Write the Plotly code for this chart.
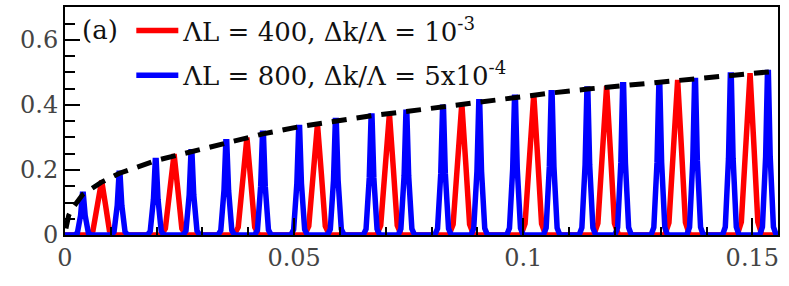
import plotly.graph_objects as go

# ---- data ----
red_peak_x = [0.0079, 0.0237, 0.0396, 0.0550, 0.0707, 0.0865, 0.1022, 0.1181, 0.1336, 0.1494]
red_peak_y = [0.167, 0.249, 0.300, 0.342, 0.374, 0.405, 0.433, 0.458, 0.477, 0.498]

blue_peak_x = [0.0039, 0.0119, 0.0198, 0.0276, 0.0352, 0.0432, 0.0511, 0.0591, 0.0669, 0.0745,
               0.0825, 0.0904, 0.0982, 0.1062, 0.1140, 0.1218, 0.1297, 0.1375, 0.1453, 0.1534]
blue_peak_y = [0.125, 0.190, 0.229, 0.256, 0.287, 0.313, 0.331, 0.352, 0.366, 0.378,
               0.393, 0.410, 0.424, 0.438, 0.449, 0.462, 0.467, 0.475, 0.492, 0.500]

# peak outline (offset from centre, fraction of peak height) as seen in the picture
red_profile_dx = [-0.0027, -0.0018, -0.00095, -0.0001, 0.0001, 0.00095, 0.0018, 0.0027]
red_profile_frac = [0.0, 0.08, 0.55, 1.0, 1.0, 0.55, 0.08, 0.0]
blue_profile_dx = [-0.0018, -0.0012, -0.0005, -0.0001, 0.0001, 0.0005, 0.0012, 0.0018]
blue_profile_frac = [0.0, 0.05, 0.48, 1.0, 1.0, 0.48, 0.05, 0.0]

env_x = [0.0002, 0.0008, 0.0015, 0.0025, 0.0039, 0.0079, 0.0119, 0.0198, 0.0276, 0.0352,
         0.0432, 0.0511, 0.0591, 0.0669, 0.0745, 0.0825, 0.0904, 0.0982, 0.1062, 0.1140,
         0.1218, 0.1297, 0.1375, 0.1453, 0.1545]
env_y = [0.020, 0.060, 0.080, 0.100, 0.125, 0.162, 0.190, 0.229, 0.256, 0.285,
         0.311, 0.333, 0.352, 0.367, 0.380, 0.395, 0.410, 0.424, 0.437, 0.449,
         0.460, 0.470, 0.480, 0.490, 0.503]

x_ticks = [0, 0.05, 0.1, 0.15]
x_tick_text = ["0", "0.05", "0.1", "0.15"]
y_ticks = [0, 0.2, 0.4, 0.6]
y_tick_text = ["0", "0.2", "0.4", "0.6"]

X_MAX = 0.1556
Y_MAX = 0.7015


def build(px, py, dxs, fracs):
    xs, ys = [0.0], [0.0]
    for c, h in zip(px, py):
        for dx, f in zip(dxs, fracs):
            xs.append(c + dx)
            ys.append(h * f)
    xs.append(X_MAX)
    ys.append(0.0)
    return xs, ys


red_x, red_y = build(red_peak_x, red_peak_y, red_profile_dx, red_profile_frac)
blue_x, blue_y = build(blue_peak_x, blue_peak_y, blue_profile_dx, blue_profile_frac)

FONT = "DejaVu Serif"

fig = go.Figure()
fig.add_trace(go.Scatter(
    x=red_x, y=red_y, mode="lines",
    line=dict(color="#ff0000", width=5.5),
    name="ΛL = 400, Δk/Λ = 10<sup>-3</sup>", legendgroup="r"))
fig.add_trace(go.Scatter(
    x=blue_x, y=blue_y, mode="lines",
    line=dict(color="#0000ff", width=5.5),
    name="ΛL = 800, Δk/Λ = 5x10<sup>-4</sup>", legendgroup="b"))
fig.add_trace(go.Scatter(
    x=env_x, y=env_y, mode="lines",
    line=dict(color="black", width=5, dash="15px,10px"),
    showlegend=False))

fig.update_layout(
    width=789, height=286,
    margin=dict(l=65, r=11, t=7, b=51, autoexpand=False),
    paper_bgcolor="white", plot_bgcolor="white",
    font=dict(family=FONT, size=26, color="#222"),
    showlegend=True,
    legend=dict(x=0.093, y=1.0, xanchor="left", yanchor="top",
                bgcolor="rgba(0,0,0,0)", font=dict(family=FONT, size=26, color="#111"),
                tracegroupgap=8, itemwidth=42),
    annotations=[dict(text="(a)", xref="paper", yref="paper", x=0.049, y=0.9,
                      xanchor="center", yanchor="middle",
                      showarrow=False, font=dict(family=FONT, size=26, color="#111"))],
)

fig.update_xaxes(
    range=[0, X_MAX], tickvals=x_ticks, ticktext=x_tick_text,
    ticks="inside", ticklen=17, tickwidth=1.5, tickcolor="black",
    minor=dict(ticks="inside", dtick=0.01, tick0=0, ticklen=8, tickwidth=1.5, tickcolor="black"),
    showline=True, linecolor="black", linewidth=2, mirror=True,
    showgrid=False, zeroline=False, automargin=False,
    tickfont=dict(family=FONT, size=24, color="#444"),
)
fig.update_yaxes(
    range=[0, Y_MAX], tickvals=y_ticks, ticktext=y_tick_text,
    ticks="inside", ticklen=15, tickwidth=1.5, tickcolor="black",
    minor=dict(ticks="inside", dtick=0.05, tick0=0, ticklen=10, tickwidth=1.5, tickcolor="black"),
    showline=True, linecolor="black", linewidth=2, mirror=True,
    showgrid=False, zeroline=False, automargin=False,
    tickfont=dict(family=FONT, size=24, color="#444"),
)

fig.write_html("out.html", config={"displayModeBar": False},
               post_script="document.body.style.margin='0';document.body.style.overflow='hidden';")
